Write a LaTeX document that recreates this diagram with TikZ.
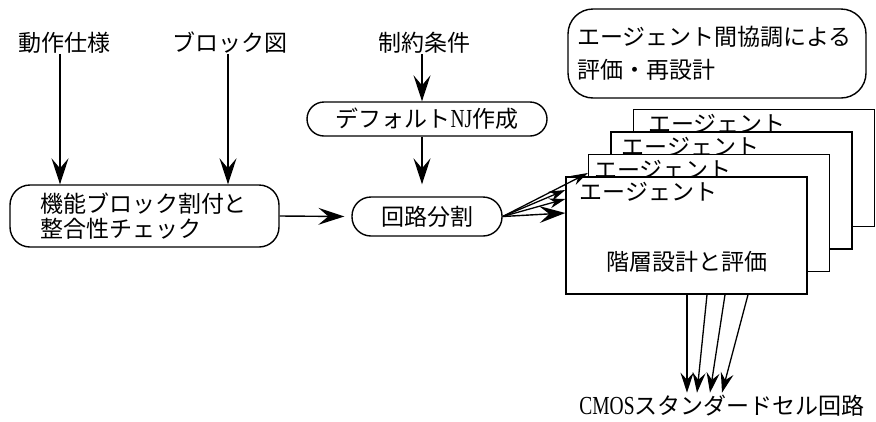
\documentclass[tikz,border=0pt]{standalone}
\usepackage{fontspec}
\setmainfont{Liberation Serif}
\newfontfamily\jp{Noto Sans CJK JP}
\newfontfamily\lat[FakeStretch=0.75]{Liberation Serif}
\usetikzlibrary{arrows.meta}
\begin{document}
\begin{tikzpicture}[x=1pt,y=-1pt,
  every node/.style={font=\jp\fontsize{23}{27}\selectfont, inner sep=0pt},
  rbox/.style={draw, line width=1.4pt, rounded corners=#1, fill=white},
  rbox/.default=20pt,
  agbox/.style={draw, line width=1.4pt, fill=white, minimum width=241pt, minimum height=117pt},
  aglbl/.style={anchor=west},
  arr/.style={line width=1.4pt, -{Stealth[length=26pt,width=17pt,inset=10pt]}},
  sarr/.style={line width=1.3pt, -{Stealth[length=16pt,width=10pt,inset=5pt]}},
  barr/.style={line width=1.3pt, -{Stealth[length=20pt,width=13pt,inset=7pt]}}]
\useasboundingbox (0,0) rectangle (876,421);

% inputs
\node (dousa) at (65,43) {動作仕様};
\node (block) at (230,43) {ブロック図};
\node (seiyaku) at (424,43) {制約条件};

% process boxes
\node[rbox=20pt, minimum width=269pt, minimum height=62pt, text width=209pt, align=left,
      font=\jp\fontsize{23}{25}\selectfont] (kinou) at (144.5,216) {機能ブロック割付と\\整合性チェック};
\node[rbox=19pt, minimum width=150pt, minimum height=39pt] (kairo) at (427,216.5) {回路分割};
\node[rbox=17pt, minimum width=240pt, minimum height=34pt] (dflt) at (427,119)
      {デフォルト{\lat\fontsize{26}{28}\selectfont NJ}作成};
\node[rbox=25pt, minimum width=298pt, minimum height=89pt, text width=280pt, align=left,
      font=\jp\fontsize{23}{33}\selectfont] (kyo) at (717,53.5) {エージェント間協調による\\評価・再設計};

% agent stack
\node[agbox] (ag4) at (754,168) {};
\node[aglbl] (ag4l) at ([xshift=15pt,yshift=-15pt]ag4.north west) {エージェント};
\node[agbox] (ag3) at (731.5,190.5) {};
\node[aglbl] (ag3l) at ([xshift=11pt,yshift=-15pt]ag3.north west) {エージェント};
\node[agbox] (ag2) at (709,213) {};
\node[aglbl] (ag2l) at ([xshift=6pt,yshift=-16pt]ag2.north west) {エージェント};
\node[agbox] (ag1) at (686.5,235.5) {};
\node[aglbl] (ag1l) at ([xshift=14pt,yshift=-15pt]ag1.north west) {エージェント};
\node (kaisou) at ([yshift=-26.5pt]ag1.center) {階層設計と評価};

% output
\node (cmos) at (722,406) {{\lat\fontsize{26}{28}\selectfont CMOS}スタンダードセル回路};

% connectors
\draw[arr] ([xshift=-5pt]dousa.south) -- ([xshift=-5pt]dousa.south |- kinou.north);
\draw[arr] ([xshift=-2pt]block.south) -- ([xshift=-2pt]block.south |- kinou.north);
\draw[arr] ([xshift=-2pt]seiyaku.south) -- ([xshift=-2pt]seiyaku.south |- dflt.north);
\draw[arr] ([xshift=-5pt]dflt.south) -- ([xshift=-5pt,yshift=12pt]kairo.north);
\draw[arr] (kinou.east) -- ([xshift=-7pt]kairo.west);

\draw[arr] (kairo.east) -- ([yshift=22.5pt]ag1.west);
\draw[sarr] (kairo.east) -- ([yshift=36.5pt]ag1.west);
\draw[sarr] (kairo.east) -- ([yshift=45.5pt]ag1.west);
\draw[sarr] (kairo.east) -- ([yshift=40pt]ag2.west);

\draw[barr] ([xshift=0.5pt]ag1.south) -- ([xshift=0.5pt,yshift=-98pt]ag1.south);
\draw[barr] ([xshift=20.5pt]ag1.south) -- ([xshift=10.5pt,yshift=-98pt]ag1.south);
\draw[barr] ([xshift=38.5pt]ag1.south) -- ([xshift=23.5pt,yshift=-98pt]ag1.south);
\draw[barr] ([xshift=61.5pt]ag1.south) -- ([xshift=35.5pt,yshift=-98pt]ag1.south);
\end{tikzpicture}
\end{document}
